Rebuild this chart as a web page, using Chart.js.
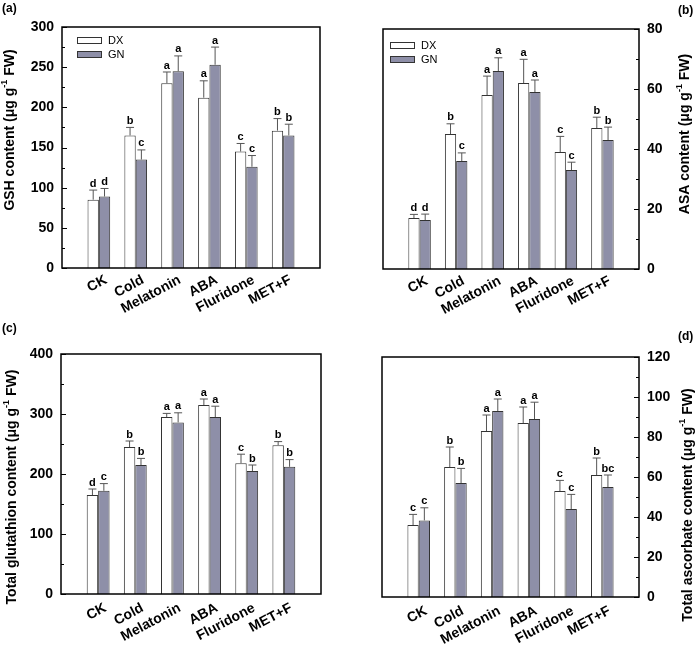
<!DOCTYPE html>
<html lang="en">
<head>
<meta charset="UTF-8">
<title>GSH, ASA, total glutathione and total ascorbate</title>
<script src="https://cdn.jsdelivr.net/npm/chart.js"></script>
<style>
  body { margin: 0; background: #fff; }
  .wrap { position: relative; width: 697px; height: 647px; }
  .wrap canvas { position: absolute; }
  .tag { position: absolute; font: bold 12px "Liberation Sans", Arial, sans-serif; color: #000; }
</style>
</head>
<body>
<div class="wrap">
  <canvas id="chartA" width="349" height="320" style="left:0;top:0"></canvas>
  <canvas id="chartB" width="348" height="320" style="left:349px;top:0"></canvas>
  <canvas id="chartC" width="349" height="327" style="left:0;top:320px"></canvas>
  <canvas id="chartD" width="348" height="327" style="left:349px;top:320px"></canvas>
  <div class="tag" style="left:2px;top:1px">(a)</div>
  <div class="tag" style="left:678px;top:3px">(b)</div>
  <div class="tag" style="left:2px;top:321px">(c)</div>
  <div class="tag" style="left:678px;top:329px">(d)</div>
</div>

<script>
// categorias e séries
const categories = ['CK', 'Cold', 'Melatonin', 'ABA', 'Fluridone', 'MET+F'];
const seriesNames = ['DX', 'GN'];

// (a) GSH
const gshDX = [85, 165, 230, 212, 145, 171];
const gshDXErr = [12, 10, 14, 21, 10, 15];
const gshGN = [89, 135, 245, 253, 126, 165];
const gshGNErr = [10, 12, 19, 22, 14, 14];
const gshDXLetters = ['d', 'b', 'a', 'a', 'c', 'b'];
const gshGNLetters = ['d', 'c', 'a', 'a', 'c', 'b'];

// (b) ASA
const asaDX = [17, 45, 58, 62, 39, 47];
const asaDXErr = [1.2, 3.4, 6.3, 7.9, 5.2, 3.6];
const asaGN = [16.3, 36, 66, 59, 33, 43];
const asaGNErr = [2, 2.7, 4.4, 4, 2.6, 4.3];
const asaDXLetters = ['d', 'b', 'a', 'a', 'c', 'b'];
const asaGNLetters = ['d', 'c', 'a', 'a', 'c', 'b'];

// (c) total glutathion
const glutDX = [165, 245, 295, 315, 218, 248];
const glutDXErr = [10, 10, 6, 10, 15, 6];
const glutGN = [172, 215, 286, 295, 205, 212];
const glutGNErr = [12, 11, 16, 18, 10, 12];
const glutDXLetters = ['d', 'b', 'a', 'a', 'c', 'b'];
const glutGNLetters = ['c', 'b', 'a', 'a', 'b', 'b'];

// (d) total ascorbate
const ascDX = [36, 65, 83, 87, 53, 61];
const ascDXErr = [5.3, 10, 8, 8, 5.3, 8.5];
const ascGN = [38.3, 57, 93, 89, 44, 55];
const ascGNErr = [6.3, 7.3, 6, 8.4, 7.3, 6];
const ascDXLetters = ['c', 'b', 'a', 'a', 'c', 'b'];
const ascGNLetters = ['c', 'b', 'a', 'a', 'c', 'bc'];

const FONT = '"Liberation Sans", Arial, sans-serif';
const WHITE = '#ffffff';
const GREY = '#8e8fa8';

// uma posição vazia de cada lado, como no gráfico original
function pad(arr) { return [null, ...arr, null]; }

// caixa, ticks internos, rótulos do eixo x, barras de erro, letras, título do eixo e legenda
const panelDecor = {
  id: 'panelDecor',
  afterDatasetsDraw(chart, args, o) {
    const ctx = chart.ctx;
    const area = chart.chartArea;
    const ys = chart.scales.y;
    const xs = chart.scales.x;
    ctx.save();

    // barras de erro e letras
    chart.data.datasets.forEach((ds, i) => {
      const meta = chart.getDatasetMeta(i);
      meta.data.forEach((bar, j) => {
        const v = ds.data[j];
        if (v == null) return;
        const yTop = ys.getPixelForValue(v + ds.errors[j]);
        const yBar = ys.getPixelForValue(v);
        ctx.strokeStyle = '#555';
        ctx.lineWidth = 1;
        ctx.beginPath();
        ctx.moveTo(bar.x, yBar);
        ctx.lineTo(bar.x, yTop);
        ctx.moveTo(bar.x - 4, yTop);
        ctx.lineTo(bar.x + 4, yTop);
        ctx.stroke();
        ctx.fillStyle = '#000';
        ctx.font = 'bold 11px ' + FONT;
        ctx.textAlign = 'center';
        ctx.textBaseline = 'bottom';
        ctx.fillText(ds.letters[j], bar.x, yTop - 1);
      });
    });

    // caixa
    ctx.strokeStyle = '#000';
    ctx.lineWidth = 1.5;
    ctx.strokeRect(area.left, area.top, area.right - area.left, area.bottom - area.top);

    // ticks para dentro
    const right = ys.position === 'right';
    const xAxis = right ? area.right : area.left;
    const dir = right ? -1 : 1;
    ctx.lineWidth = 1;
    ctx.beginPath();
    for (let v = ys.min; v <= ys.max + 1e-9; v += o.minorStep) {
      const len = (Math.round(v / o.minorStep) % 2 === 0) ? 5 : 3;
      const py = Math.round(ys.getPixelForValue(v)) + 0.5;
      ctx.moveTo(xAxis, py);
      ctx.lineTo(xAxis + dir * len, py);
    }
    ctx.stroke();

    // rótulos do eixo x, inclinados
    ctx.fillStyle = '#000';
    ctx.font = 'bold 14px ' + FONT;
    ctx.textAlign = 'right';
    ctx.textBaseline = 'top';
    chart.data.labels.forEach((lab, k) => {
      if (!lab) return;
      const px = xs.getPixelForValue(k);
      ctx.save();
      ctx.translate(px + 4, area.bottom + o.labelGap);
      ctx.rotate(-28 * Math.PI / 180);
      ctx.fillText(lab, 0, 0);
      ctx.restore();
    });

    // título do eixo y com sobrescrito
    ctx.translate(o.titleX, o.titleY);
    ctx.rotate(-Math.PI / 2);
    ctx.textAlign = 'left';
    ctx.textBaseline = 'middle';
    const parts = [
      { t: o.title + ' (\u03bcg g', f: 'bold 14px ' + FONT, dy: 0 },
      { t: '-1', f: 'bold 9px ' + FONT, dy: -5 },
      { t: ' FW)', f: 'bold 14px ' + FONT, dy: 0 }
    ];
    let total = 0;
    parts.forEach(p => { ctx.font = p.f; p.w = ctx.measureText(p.t).width; total += p.w; });
    let cx = -total / 2;
    parts.forEach(p => { ctx.font = p.f; ctx.fillText(p.t, cx, p.dy); cx += p.w; });
    ctx.setTransform(1, 0, 0, 1, 0, 0);

    // legenda
    if (o.legend) {
      const lg = o.legend;
      chart.data.datasets.forEach((ds, i) => {
        const by = lg.y + i * 14;
        ctx.fillStyle = ds.backgroundColor;
        ctx.fillRect(lg.x, by, 24, 6);
        ctx.strokeStyle = '#333';
        ctx.lineWidth = 1;
        ctx.strokeRect(lg.x + 0.5, by + 0.5, 24, 6);
        ctx.fillStyle = '#000';
        ctx.font = '11px ' + FONT;
        ctx.textAlign = 'left';
        ctx.textBaseline = 'middle';
        ctx.fillText(ds.label, lg.x + 31, by + 3.5);
      });
    }
    ctx.restore();
  }
};

function makeChart(id, cfg) {
  const canvas = document.getElementById(id);
  const W = canvas.width, H = canvas.height;
  const axisRight = cfg.axis === 'right';
  return new Chart(canvas, {
    type: 'bar',
    data: {
      labels: ['', ...categories, ''],
      datasets: [
        { label: seriesNames[0], data: pad(cfg.dx), errors: pad(cfg.dxErr), letters: pad(cfg.dxLetters),
          backgroundColor: WHITE, borderColor: '#333', borderWidth: 1 },
        { label: seriesNames[1], data: pad(cfg.gn), errors: pad(cfg.gnErr), letters: pad(cfg.gnLetters),
          backgroundColor: GREY, borderColor: '#333', borderWidth: 1 }
      ]
    },
    options: {
      responsive: false,
      animation: false,
      events: [],
      layout: {
        padding: axisRight
          ? { left: cfg.area.left, right: 0, top: cfg.area.top, bottom: 0 }
          : { left: 0, right: W - cfg.area.right, top: cfg.area.top, bottom: 0 }
      },
      datasets: { bar: { categoryPercentage: 0.615, barPercentage: 1 } },
      scales: {
        x: {
          offset: false,
          grid: { display: false, drawTicks: false, offset: false },
          border: { display: false },
          ticks: { display: false, autoSkip: false },
          afterFit(s) { s.height = H - cfg.area.bottom; s.paddingLeft = 0; s.paddingRight = 0; }
        },
        y: {
          position: cfg.axis,
          min: 0, max: cfg.max,
          grid: { display: false, drawTicks: false },
          border: { display: false },
          ticks: {
            stepSize: cfg.step, color: '#000', padding: 8,
            font: { family: FONT, size: 14, weight: 'bold' }
          },
          afterFit(s) { s.width = axisRight ? W - cfg.area.right : cfg.area.left; }
        }
      },
      plugins: {
        legend: { display: false },
        tooltip: { enabled: false },
        panelDecor: {
          minorStep: cfg.step / 2,
          labelGap: cfg.labelGap,
          title: cfg.title, titleX: cfg.titleX, titleY: cfg.titleY,
          legend: cfg.legend || null
        }
      }
    },
    plugins: [panelDecor]
  });
}

makeChart('chartA', {
  dx: gshDX, dxErr: gshDXErr, dxLetters: gshDXLetters,
  gn: gshGN, gnErr: gshGNErr, gnLetters: gshGNLetters,
  axis: 'left', max: 300, step: 50,
  area: { left: 62, right: 320, top: 27, bottom: 268 },
  labelGap: 5,
  title: 'GSH content', titleX: 10, titleY: 130,
  legend: { x: 77, y: 37 }
});

makeChart('chartB', {
  dx: asaDX, dxErr: asaDXErr, dxLetters: asaDXLetters,
  gn: asaGN, gnErr: asaGNErr, gnLetters: asaGNLetters,
  axis: 'right', max: 80, step: 20,
  area: { left: 34, right: 290, top: 29, bottom: 269 },
  labelGap: 5,
  title: 'ASA content', titleX: 336, titleY: 134,
  legend: { x: 41, y: 42 }
});

makeChart('chartC', {
  dx: glutDX, dxErr: glutDXErr, dxLetters: glutDXLetters,
  gn: glutGN, gnErr: glutGNErr, gnLetters: glutGNLetters,
  axis: 'left', max: 400, step: 100,
  area: { left: 61, right: 321, top: 34, bottom: 274 },
  labelGap: 7,
  title: 'Total glutathion content', titleX: 12, titleY: 167
});

makeChart('chartD', {
  dx: ascDX, dxErr: ascDXErr, dxLetters: ascDXLetters,
  gn: ascGN, gnErr: ascGNErr, gnLetters: ascGNLetters,
  axis: 'right', max: 120, step: 20,
  area: { left: 33, right: 290, top: 37, bottom: 277 },
  labelGap: 7,
  title: 'Total ascorbate content', titleX: 339, titleY: 185
});
</script>
</body>
</html>
